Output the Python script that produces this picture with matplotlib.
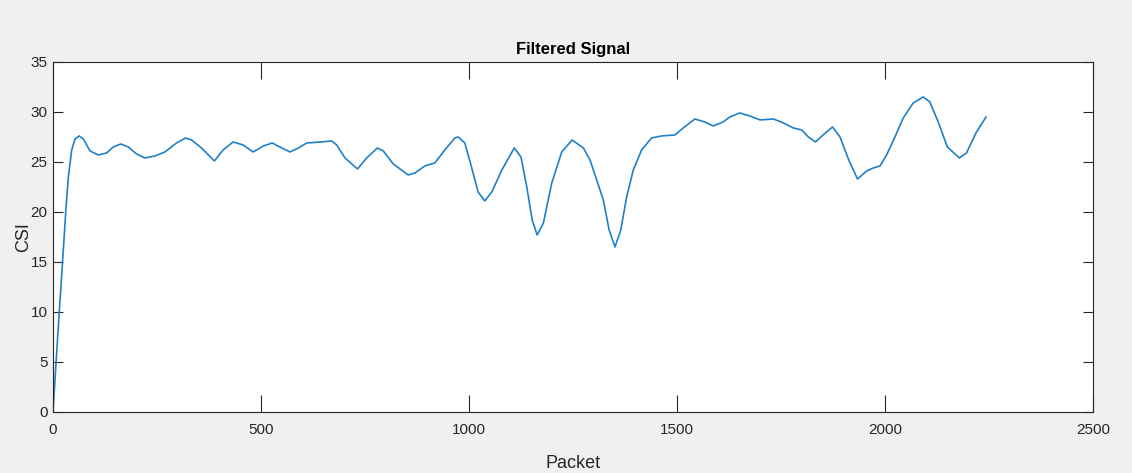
import matplotlib.pyplot as plt

# valores
packet = [0, 12, 25, 31, 37, 45, 53, 63, 73, 89, 109, 129, 145, 163, 181, 201, 221, 245,
          269, 297, 319, 333, 357, 388, 409, 433, 457, 481, 506, 527, 550, 570, 590, 610,
          644, 670, 682, 702, 732, 754, 780, 794, 818, 854, 870, 894, 918, 942, 966, 974,
          990, 1006, 1022, 1038, 1055, 1079, 1109, 1125, 1139, 1152, 1164, 1179, 1199,
          1223, 1248, 1275, 1291, 1307, 1323, 1337, 1351, 1365, 1379, 1395, 1415, 1439,
          1463, 1495, 1515, 1543, 1567, 1587, 1611, 1627, 1651, 1675, 1700, 1732, 1756,
          1780, 1800, 1816, 1833, 1854, 1874, 1892, 1913, 1934, 1956, 1972, 1988, 2004,
          2024, 2044, 2068, 2092, 2108, 2128, 2150, 2179, 2196, 2220, 2243]
csi = [0, 8.0, 16.3, 20.2, 23.5, 26.2, 27.3, 27.6, 27.3, 26.1, 25.7, 25.9, 26.5, 26.8,
       26.5, 25.8, 25.4, 25.6, 26.0, 26.9, 27.4, 27.2, 26.4, 25.1, 26.2, 27.0, 26.7,
       26.0, 26.6, 26.9, 26.4, 26.0, 26.4, 26.9, 27.0, 27.1, 26.7, 25.4, 24.3, 25.4,
       26.4, 26.1, 24.8, 23.7, 23.9, 24.6, 24.9, 26.2, 27.4, 27.5, 26.9, 24.5, 22.0,
       21.1, 22.0, 24.2, 26.4, 25.5, 22.5, 19.2, 17.7, 18.9, 22.9, 26.0, 27.2, 26.4,
       25.2, 23.2, 21.2, 18.2, 16.5, 18.2, 21.5, 24.2, 26.2, 27.4, 27.6, 27.7, 28.4,
       29.3, 29.0, 28.6, 29.0, 29.5, 29.9, 29.6, 29.2, 29.3, 28.9, 28.4, 28.2, 27.5,
       27.0, 27.8, 28.5, 27.5, 25.2, 23.3, 24.1, 24.4, 24.6, 25.7, 27.5, 29.4, 30.9,
       31.5, 31.0, 29.0, 26.5, 25.4, 25.9, 28.0, 29.5]

plt.rcParams['font.family'] = ['Liberation Sans', 'DejaVu Sans']

fig = plt.figure(figsize=(11.32, 4.73), dpi=100, facecolor='#f0f0f0')
ax = fig.add_axes([0.0468, 0.129, 0.9187, 0.740])
ax.plot(packet, csi, color='#1f80c8', linewidth=1.2)

ax.set_xlim(0, 2500)
ax.set_ylim(0, 35)
ax.set_xticks(range(0, 2501, 500))
ax.set_yticks(range(0, 36, 5))

for s in ax.spines.values():
    s.set_color('#262626')
    s.set_linewidth(0.8)
ax.tick_params(axis='x', direction='in', top=True, length=12, width=0.8,
               colors='#262626', labelsize=11, pad=8)
ax.tick_params(axis='y', direction='in', right=True, length=7, width=0.8,
               colors='#262626', labelsize=11, pad=4)

ax.set_title('Filtered Signal', fontsize=12, fontweight='bold', pad=6, color='black')
ax.set_xlabel('Packet', fontsize=13, color='#262626', labelpad=13)
ax.set_ylabel('CSI', fontsize=13, color='#262626', labelpad=-1)

fig.savefig('out.png', dpi=100, facecolor=fig.get_facecolor())
